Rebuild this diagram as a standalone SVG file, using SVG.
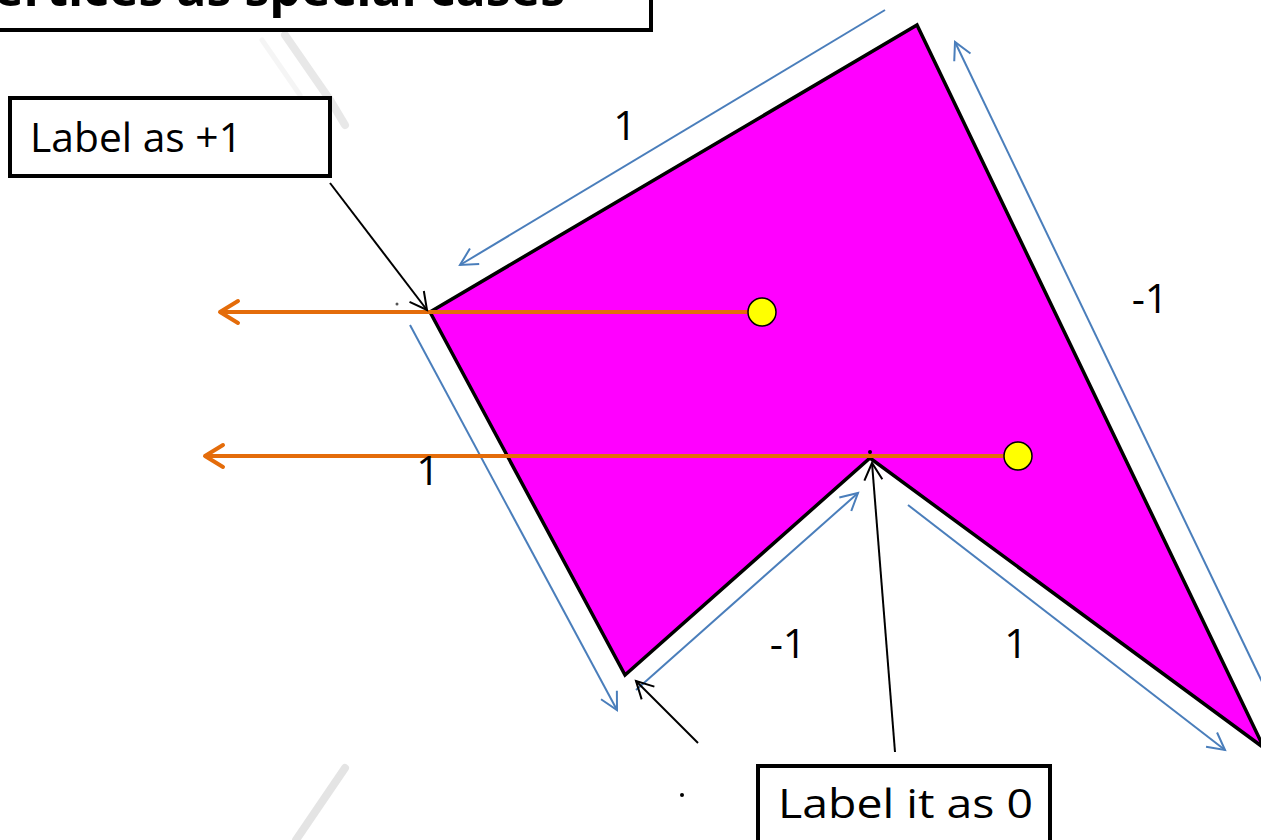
<svg xmlns="http://www.w3.org/2000/svg" width="1261" height="840" viewBox="0 0 1261 840">
<style>
.lbl{font-family:"Open Sans","Liberation Sans",Arial,sans-serif;font-size:41px;fill:#000}
.num{font-family:"Open Sans","Liberation Sans",Arial,sans-serif;font-size:41px;fill:#000;text-anchor:middle}
.box{fill:#fff;stroke:#000;stroke-width:4}
.blue{stroke:#4a7ebb;stroke-width:2;fill:none;marker-end:url(#mb)}
.orange{stroke:#e46c0a;stroke-width:4;fill:none;marker-end:url(#mo)}
.blk{stroke:#000;stroke-width:2;fill:none;marker-end:url(#mk)}
.bg{stroke:#d8d8d8;stroke-linecap:round;fill:none}
</style>
<defs>
<marker id="mb" markerUnits="userSpaceOnUse" markerWidth="24" markerHeight="24" viewBox="0 0 24 24" refX="20" refY="12" orient="auto"><path d="M3,3 L20,12 L3,21" fill="none" stroke="#4a7ebb" stroke-width="2"/></marker>
<marker id="mo" markerUnits="userSpaceOnUse" markerWidth="30" markerHeight="30" viewBox="0 0 30 30" refX="24" refY="15" orient="auto"><path d="M6,4 L24,15 L6,26" fill="none" stroke="#e46c0a" stroke-width="4" stroke-linecap="round" stroke-linejoin="round"/></marker>
<marker id="mk" markerUnits="userSpaceOnUse" markerWidth="24" markerHeight="24" viewBox="0 0 24 24" refX="20" refY="12" orient="auto"><path d="M3,3 L20,12 L3,21" fill="none" stroke="#000" stroke-width="2"/></marker>
</defs>
<rect width="1261" height="840" fill="#fff"/>
<g id="background">
<path class="bg" d="M285,35 L330,100 L345,125" stroke-width="8" opacity="0.6"/>
<path class="bg" d="M262,40 L300,95" stroke-width="5" opacity="0.25"/>
<path class="bg" d="M345,768 L296,840" stroke-width="8" opacity="0.7"/>
</g>
<g id="polygon">
<polygon points="430,312 917,25 1264,748 870,458 625,675" fill="#ff00ff" stroke="#000" stroke-width="3.5" stroke-linejoin="miter"/>
</g>
<g id="title">
<rect class="box" x="-10" y="-20" width="661" height="50"/>
<text x="565" y="6" font-family="Open Sans,Liberation Sans,Arial,sans-serif" font-size="50" font-weight="bold" text-anchor="end">Vertices as special cases</text>
</g>
<g id="label-plus1">
<rect class="box" x="10" y="98" width="320" height="78"/>
<text class="lbl" x="30" y="152" textLength="212" lengthAdjust="spacingAndGlyphs">Label as +1</text>
</g>
<g id="label-zero">
<rect class="box" x="758" y="766" width="292" height="90"/>
<text class="lbl" x="778" y="818" textLength="255" lengthAdjust="spacingAndGlyphs">Label it as 0</text>
</g>
<g id="connectors">
<line class="blue" x1="885" y1="10" x2="460" y2="265"/>
<line class="blue" x1="1266" y1="690" x2="955" y2="42"/>
<line class="blue" x1="410" y1="325" x2="617" y2="710"/>
<line class="blue" x1="636" y1="690" x2="858" y2="493"/>
<line class="blue" x1="908" y1="505" x2="1225" y2="750"/>
<line class="orange" x1="750" y1="312" x2="220" y2="312"/>
<line class="orange" x1="1005" y1="456" x2="205" y2="456"/>
<line class="blk" x1="330" y1="183" x2="427" y2="310"/>
<line class="blk" x1="895" y1="752" x2="872" y2="463"/>
<line class="blk" x1="698" y1="743" x2="636" y2="681"/>
</g>
<g id="points">
<circle cx="762" cy="312" r="14" fill="#ffff00" stroke="#000" stroke-width="1.5"/>
<circle cx="1018" cy="456" r="14" fill="#ffff00" stroke="#000" stroke-width="1.5"/>
<circle cx="682" cy="795" r="2" fill="#000"/>
<circle cx="397" cy="304" r="1.5" fill="#555"/>
<circle cx="870" cy="452" r="2" fill="#000"/>
</g>
<g id="edge-labels">
<text class="num" x="625" y="140">1</text>
<text class="num" x="1150" y="313">-1</text>
<text class="num" x="428" y="485">1</text>
<text class="num" x="788" y="658">-1</text>
<text class="num" x="1016" y="658">1</text>
</g>
</svg>
